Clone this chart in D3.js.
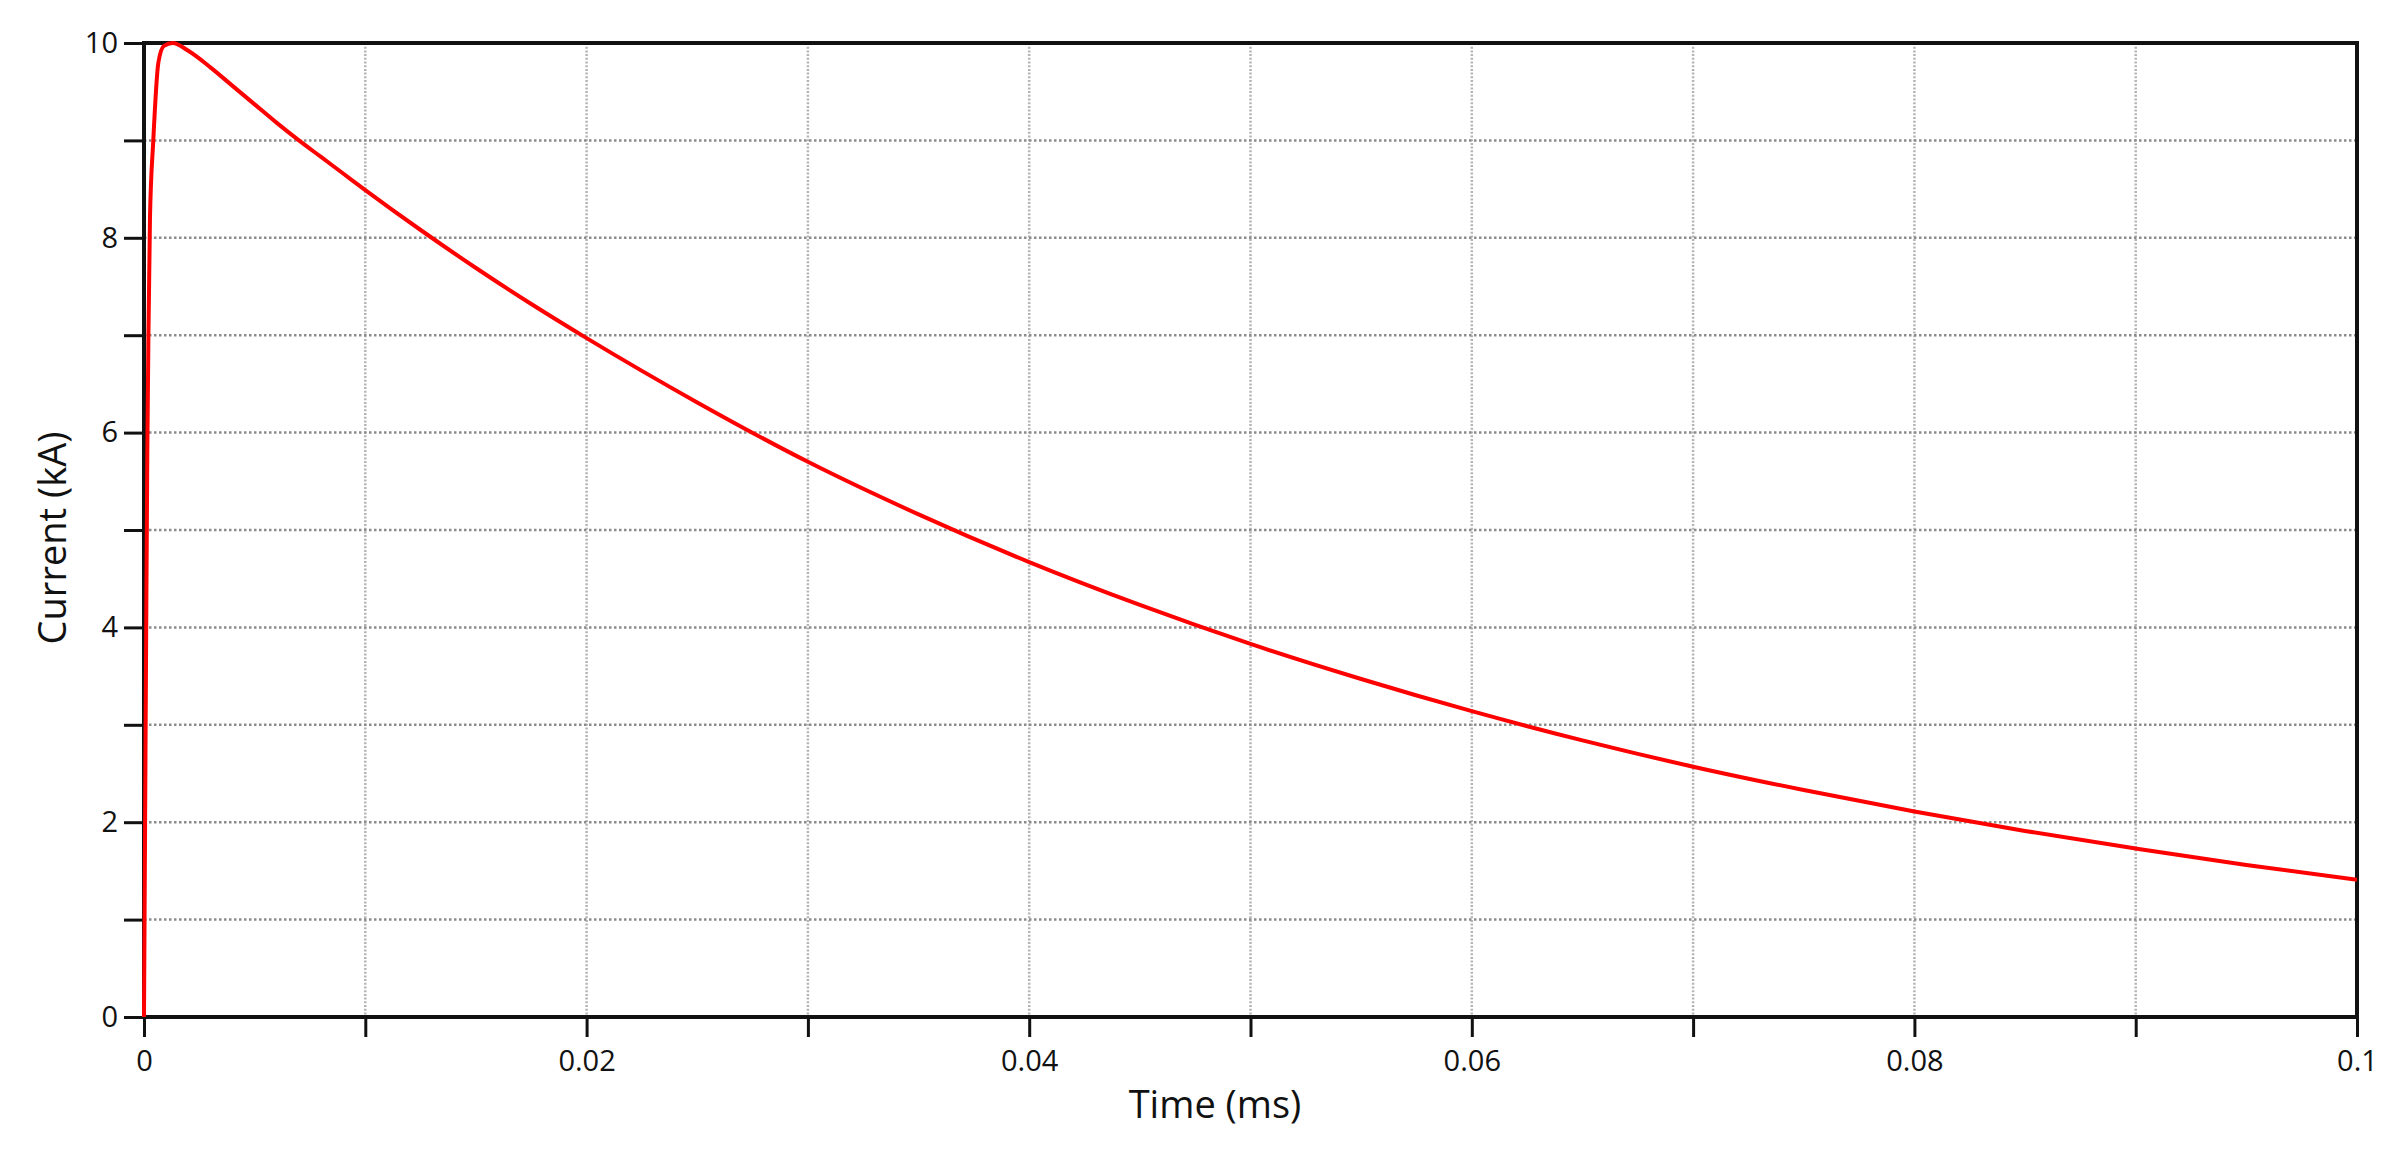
<!DOCTYPE html>
<html>
<head>
<meta charset="utf-8">
<script src="https://cdn.jsdelivr.net/npm/d3@7"></script>
<style>
	body { margin: 0; background: #fff; }
	svg { display: block; }
	text { font-family: "Open Sans", "DejaVu Sans", sans-serif; fill: #111; }
</style>
</head>
<body>
<div id="chart"></div>
<script>
// (time in ms, current in kA)
const timeMs = [
	0, 0.00005, 0.0001, 0.00015, 0.0002, 0.00027, 0.00042, 0.00065, 0.0009, 0.0013,
	0.002, 0.003, 0.004, 0.005, 0.006, 0.007, 0.008, 0.009, 0.01, 0.0125,
	0.015, 0.0175, 0.02, 0.025, 0.03, 0.035, 0.04, 0.045, 0.05, 0.055,
	0.06, 0.065, 0.07, 0.075, 0.08, 0.085, 0.09, 0.095, 0.1
];
const currentKA = [
	0, 2.0, 4.0, 5.8, 7.0, 8.2, 9.0, 9.8, 9.97, 10.0,
	9.92, 9.75, 9.56, 9.37, 9.18, 9.0, 8.83, 8.66, 8.49, 8.08,
	7.69, 7.32, 6.97, 6.31, 5.70, 5.16, 4.67, 4.23, 3.83, 3.47,
	3.14, 2.84, 2.57, 2.33, 2.11, 1.91, 1.73, 1.56, 1.41
];

const xTicks = [0, 0.01, 0.02, 0.03, 0.04, 0.05, 0.06, 0.07, 0.08, 0.09, 0.1];
const xTickLabels = ["0", "", "0.02", "", "0.04", "", "0.06", "", "0.08", "", "0.1"];
const yTicks = [0, 1, 2, 3, 4, 5, 6, 7, 8, 9, 10];
const yTickLabels = ["0", "", "2", "", "4", "", "6", "", "8", "", "10"];

const xTitle = "Time (ms)";
const yTitle = "Current (kA)";

const w = 2400;
const h = 1158;
const margin = { top: 43, bottom: 141, left: 144, right: 43 };

const svg = d3.select("#chart")
	.append("svg")
	.attr("width", w)
	.attr("height", h)
	.attr("viewBox", [0, 0, w, h]);

svg.append("rect")
	.attr("width", w)
	.attr("height", h)
	.attr("fill", "#fff");

const x = d3.scaleLinear()
	.domain([0, 0.1])
	.range([margin.left, w - margin.right]);

const y = d3.scaleLinear()
	.domain([0, 10])
	.range([h - margin.bottom, margin.top]);

// grid
svg.append("g")
	.selectAll("line")
	.data(xTicks)
	.join("line")
		.attr("x1", d => x(d))
		.attr("x2", d => x(d))
		.attr("y1", y(10))
		.attr("y2", y(0))
		.attr("stroke", "#b4b4b4")
		.attr("stroke-width", 2.5)
		.attr("stroke-dasharray", "2,1.7");

svg.append("g")
	.selectAll("line")
	.data(yTicks)
	.join("line")
		.attr("x1", x(0))
		.attr("x2", x(0.1))
		.attr("y1", d => y(d))
		.attr("y2", d => y(d))
		.attr("stroke", "#8c8c8c")
		.attr("stroke-width", 2.5)
		.attr("stroke-dasharray", "2.5,2.5");

//axes

function xAxis(g) {
	g.attr("transform", `translate(0, ${h - margin.bottom})`)
	.call(d3.axisBottom(x).tickValues(xTicks).tickSize(20).tickPadding(13)
		.tickFormat((d, i) => xTickLabels[i]))
	.attr("font-size", "29px")
	.attr("font-family", null)
	.call(g => g.select(".domain").remove())
	.call(g => g.selectAll(".tick line").attr("stroke", "#111").attr("stroke-width", 3));
}

function yAxis(g) {
	g.attr("transform", `translate(${margin.left}, 0)`)
	.call(d3.axisLeft(y).tickValues(yTicks).tickSize(20).tickPadding(6)
		.tickFormat((d, i) => yTickLabels[i]))
	.attr("font-size", "29px")
	.attr("font-family", null)
	.call(g => g.select(".domain").remove())
	.call(g => g.selectAll(".tick line").attr("stroke", "#111").attr("stroke-width", 3));
}

svg.append("g").call(xAxis);
svg.append("g").call(yAxis);

// frame
svg.append("rect")
	.attr("x", x(0))
	.attr("y", y(10))
	.attr("width", x(0.1) - x(0))
	.attr("height", y(0) - y(10))
	.attr("fill", "none")
	.attr("stroke", "#111")
	.attr("stroke-width", 4);

// curve
const line = d3.line()
	.x((d, i) => x(timeMs[i]))
	.y(d => y(d))
	.curve(d3.curveMonotoneX);

svg.append("path")
	.datum(currentKA)
	.attr("d", line)
	.attr("fill", "none")
	.attr("stroke", "#ff0000")
	.attr("stroke-width", 4)
	.attr("stroke-linejoin", "round");

// titles
svg.append("text")
	.attr("x", 1215)
	.attr("y", 1118)
	.attr("text-anchor", "middle")
	.attr("font-size", "38px")
	.text(xTitle);

svg.append("text")
	.attr("transform", `translate(66, 538) rotate(-90)`)
	.attr("text-anchor", "middle")
	.attr("font-size", "38px")
	.text(yTitle);
</script>
</body>
</html>
